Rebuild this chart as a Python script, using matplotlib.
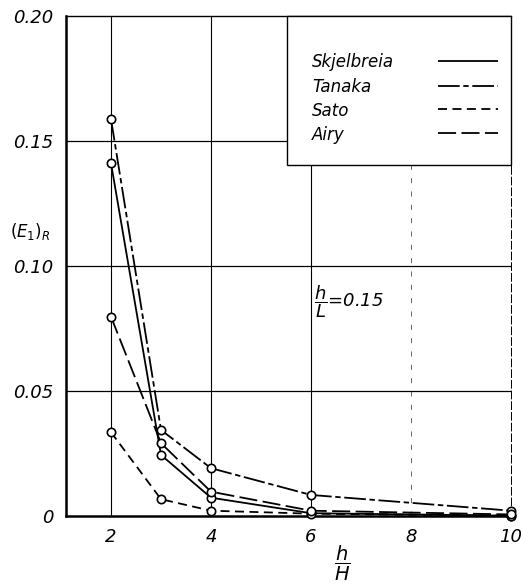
import matplotlib
matplotlib.use("Agg")
import matplotlib.pyplot as plt
from matplotlib.patches import Rectangle
from matplotlib.lines import Line2D

plt.rcParams['font.family'] = ['DejaVu Sans']
plt.rcParams['mathtext.fontset'] = 'dejavusans'

# ---- data ----
h_over_H = [2, 3, 4, 6, 10]
skjelbreia = [0.141, 0.0243, 0.0072, 0.0010, 0.0000]
tanaka = [0.1586, 0.0343, 0.0190, 0.0083, 0.0020]
sato = [0.0334, 0.0066, 0.0020, 0.0008, 0.0000]
airy = [0.0796, 0.0290, 0.0096, 0.0020, 0.0005]

series_names = ["Skjelbreia", "Tanaka", "Sato", "Airy"]
x_ticks = [2, 4, 6, 8, 10]
x_tick_labels = ["2", "4", "6", "8", "10"]
y_ticks = [0, 0.05, 0.10, 0.15, 0.20]
y_tick_labels = ["0", "0.05", "0.10", "0.15", "0.20"]

fig = plt.figure(figsize=(5.21, 5.84), dpi=100)
ax = fig.add_axes([66 / 521, 1 - 515.7 / 584, 445 / 521, 500 / 584])

styles = {
    "Skjelbreia": (0, ()),
    "Tanaka": (0, (12, 2, 3, 2)),
    "Sato": (0, (5, 3)),
    "Airy": (0, (10, 3)),
}
data = {"Skjelbreia": skjelbreia, "Tanaka": tanaka, "Sato": sato, "Airy": airy}

for name in series_names:
    ax.plot(h_over_H, data[name], color="black", lw=1.3, marker="o", ms=6,
            mfc="white", mec="black", mew=1.2, clip_on=False, zorder=3,
            linestyle=styles[name])

ax.set_xlim(1.1, 10)
ax.set_ylim(0, 0.20)
ax.set_xticks(x_ticks)
ax.set_xticklabels(x_tick_labels, fontsize=13, style="italic")
ax.set_yticks(y_ticks)
ax.set_yticklabels(y_tick_labels, fontsize=13, style="italic")
ax.tick_params(length=0, pad=9)

# grid
for xv in [2, 4, 6]:
    ax.axvline(xv, color="black", lw=0.8, zorder=1)
ax.axvline(8, color="black", lw=0.6, ls=(0, (6, 10)), zorder=1, alpha=0.7)
for yv in [0.05, 0.10, 0.15]:
    ax.axhline(yv, color="black", lw=0.9, zorder=1)

for s in ["left", "bottom"]:
    ax.spines[s].set_linewidth(1.8)
ax.spines["top"].set_linewidth(1.0)
ax.spines["right"].set_linewidth(0.7)
ax.spines["right"].set_linestyle((0, (8, 3)))

ax.set_xlabel(r"$\dfrac{h}{H}$", fontsize=14)
ax.xaxis.set_label_coords(0.622, -0.056)
fig.text(30 / 521, 1 - 232 / 584, r"$(E_{1})_{R}$", fontsize=12,
         ha="center", va="center")

ax.text(6.06, 0.0855, r"$\dfrac{h}{L}$=0.15", fontsize=13, style="italic",
        ha="left", va="center")

# legend box (drawn in axes coordinates)
ax.add_patch(Rectangle((0.497, 0.701), 0.503, 0.299, transform=ax.transAxes,
                       facecolor="white", edgecolor="black", lw=1.0, zorder=5,
                       clip_on=False))
row_y = [0.907, 0.857, 0.810, 0.762]
for name, yy in zip(series_names, row_y):
    ax.text(0.553, yy, name, transform=ax.transAxes, fontsize=12,
            style="italic", ha="left", va="center", zorder=6)
    ax.add_line(Line2D([0.836, 0.971], [yy + 0.003, yy + 0.003],
                       transform=ax.transAxes, color="black", lw=1.3,
                       linestyle=styles[name], zorder=6))

fig.savefig("out.png", dpi=100)
